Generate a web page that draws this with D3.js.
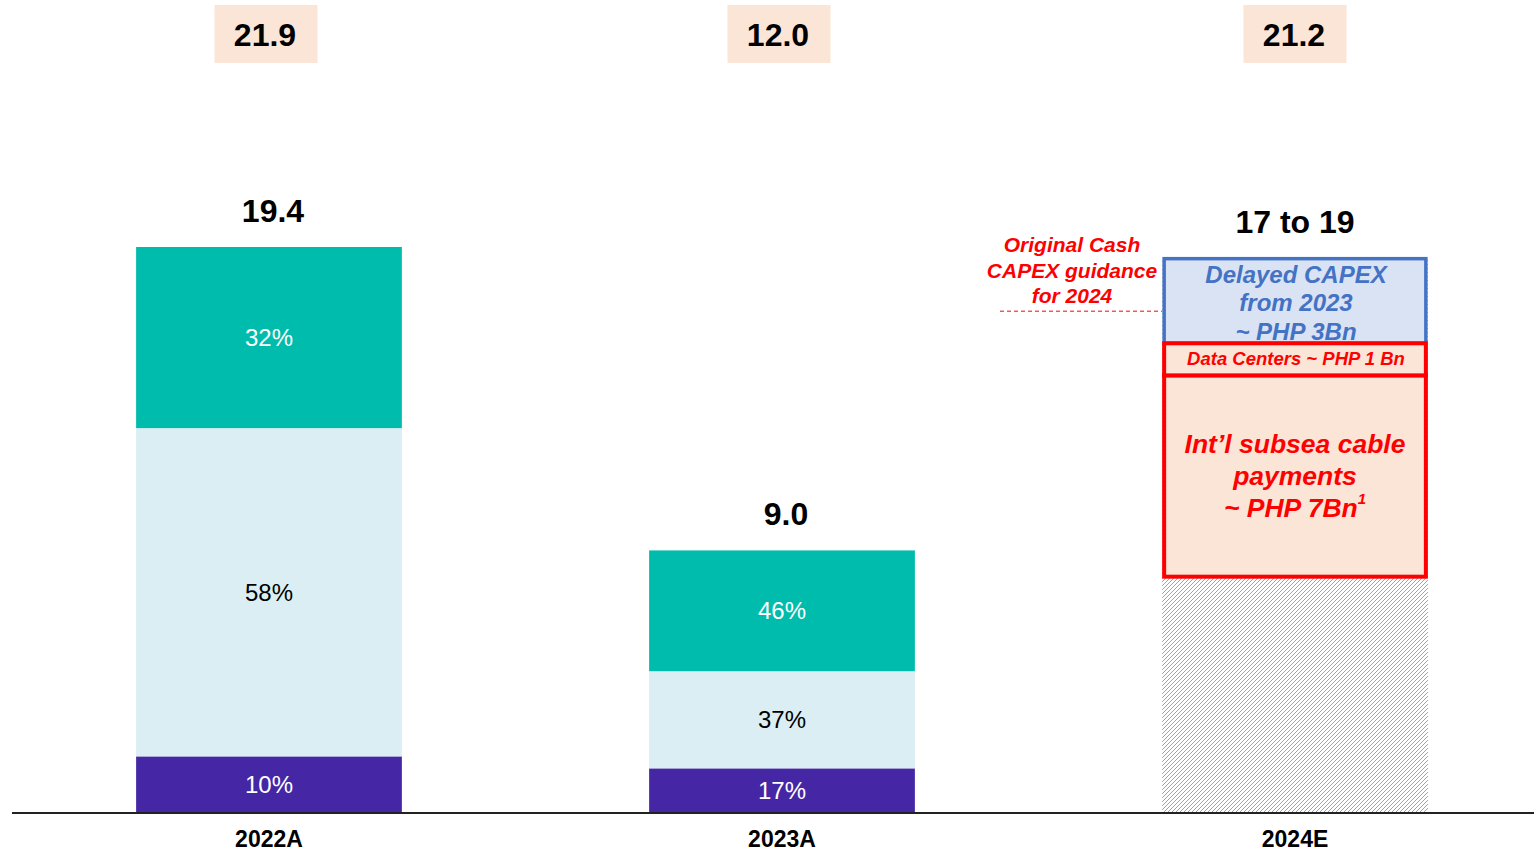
<!DOCTYPE html>
<html><head><meta charset="utf-8">
<script src="https://cdn.jsdelivr.net/npm/d3@7"></script>
<style>body{margin:0;background:#fff}svg{display:block}text{font-family:"Liberation Sans",Arial,sans-serif}</style>
</head><body><svg id="c" width="1534" height="854"></svg>
<script>
const categories = ["2022A", "2023A", "2024E"];
const totals = [19.4, 9.0];
const segments = ["bottom", "middle", "top"];
const shares2022 = [0.10, 0.58, 0.32];
const shares2023 = [0.17, 0.37, 0.46];
const topLabels = ["21.9", "12.0", "21.2"];
const valueLabels = ["19.4", "9.0", "17 to 19"];
const est2024 = [8.1, 6.9, 1.1, 2.9]; // base (hatched), subsea, data centers, delayed
const guidance2024 = 17.2;

const svg = d3.select("#c");
const x = d3.scaleBand().domain(categories).range([13, 1551]).paddingInner(0.482).paddingOuter(0.24);
const y = d3.scaleLinear().domain([0, 19.4]).range([813, 247]);
const colors = {bottom: "#4527A5", middle: "#DAEEF3", top: "#00BCAC"};
const textColors = {bottom: "#ffffff", middle: "#000000", top: "#ffffff"};

const defs = svg.append("defs");
const pat = defs.append("pattern").attr("id", "hatch").attr("patternUnits", "userSpaceOnUse")
  .attr("width", 4).attr("height", 4);
pat.append("path").attr("d", "M-1,1 L1,-1 M0,4 L4,0 M3,5 L5,3").attr("stroke", "#a2a2a2").attr("stroke-width", 1);

// stacked bars 2022A, 2023A
[shares2022, shares2023].forEach((shares, i) => {
  const cat = categories[i];
  let acc = 0;
  shares.forEach((s, j) => {
    const v0 = acc, v1 = acc + s * totals[i];
    acc = v1;
    svg.append("rect").attr("x", x(cat)).attr("width", x.bandwidth())
      .attr("y", y(v1)).attr("height", y(v0) - y(v1)).attr("fill", colors[segments[j]]);
    svg.append("text").attr("x", x(cat) + x.bandwidth() / 2).attr("y", (y(v0) + y(v1)) / 2)
      .attr("text-anchor", "middle").attr("dominant-baseline", "central")
      .attr("font-size", 24).attr("fill", textColors[segments[j]])
      .text(Math.round(s * 100) + "%");
  });
});

// 2024E
const c3 = categories[2];
const bx = x(c3), bw = x.bandwidth();
const total2024 = d3.sum(est2024);
svg.append("rect").attr("x", bx).attr("width", bw).attr("y", y(total2024)).attr("height", y(0) - y(total2024))
  .attr("fill", "url(#hatch)");
const cum = [0];
est2024.forEach(v => cum.push(cum[cum.length - 1] + v));
const inset = 2;
svg.append("rect").attr("x", bx + inset).attr("width", bw - 2 * inset)
  .attr("y", y(cum[2])).attr("height", y(cum[1]) - y(cum[2]))
  .attr("fill", "#FBE5D6").attr("stroke", "#FF0000").attr("stroke-width", 4);
svg.append("rect").attr("x", bx + inset).attr("width", bw - 2 * inset)
  .attr("y", y(cum[4])).attr("height", y(cum[3]) - y(cum[4]))
  .attr("fill", "#DAE3F3").attr("stroke", "#4472C4").attr("stroke-width", 3.5);
svg.append("rect").attr("x", bx + inset).attr("width", bw - 2 * inset)
  .attr("y", y(cum[3])).attr("height", y(cum[2]) - y(cum[3]))
  .attr("fill", "#FBE5D6").attr("stroke", "#FF0000").attr("stroke-width", 4);

const cx3 = bx + bw / 2;
const txt = (xx, yy, s, size, color, italic) => svg.append("text").attr("x", xx).attr("y", yy)
  .attr("text-anchor", "middle").attr("dominant-baseline", "central")
  .attr("font-size", size).attr("font-weight", "bold").attr("font-style", italic ? "italic" : "normal")
  .attr("fill", color).text(s);

txt(cx3 + 1, 274, "Delayed CAPEX", 24, "#4472C4", true);
txt(cx3 + 1, 302, "from 2023", 24, "#4472C4", true);
txt(cx3 + 1, 331, "~ PHP 3Bn", 24, "#4472C4", true);
txt(cx3 + 1, 358, "Data Centers ~ PHP 1 Bn", 18.5, "#FF0000", true);
txt(cx3, 444, "Int\u2019l subsea cable", 26.5, "#FF0000", true);
txt(cx3, 476, "payments", 26.5, "#FF0000", true);
const t7 = txt(cx3, 508, "~ PHP 7Bn", 26.5, "#FF0000", true);
t7.append("tspan").attr("font-size", 15).attr("dy", -10).text("1");

// guidance annotation
svg.append("line").attr("x1", 1000).attr("x2", bx).attr("y1", y(guidance2024)).attr("y2", y(guidance2024))
  .attr("stroke", "#FF0000").attr("stroke-width", 1).attr("stroke-dasharray", "4,3");
txt(1072, 244, "Original  Cash", 21, "#FF0000", true);
txt(1072, 270, "CAPEX guidance", 21, "#FF0000", true);
txt(1072, 295, "for 2024", 21, "#FF0000", true);

// value labels above bars
const tops = [totals[0], totals[1], total2024];
const labelOff = [4, 4, 0];
categories.forEach((c, i) => {
  txt(x(c) + x.bandwidth() / 2 + labelOff[i], y(tops[i]) - (i === 2 ? 37 : 36), valueLabels[i], 32, "#000", false);
});

// top boxes
categories.forEach((c, i) => {
  const cx = x(c) + x.bandwidth() / 2 - (i === 2 ? 0 : 3);
  svg.append("rect").attr("x", cx - 51.5).attr("y", 5).attr("width", 103).attr("height", 58).attr("fill", "#FBE5D6");
  txt(cx - 1, 35, topLabels[i], 32, "#000", false);
});

// axis
const ax = svg.append("g").attr("transform", "translate(0,813)")
  .call(d3.axisBottom(x).tickSize(0).tickPadding(18));
ax.select(".domain").attr("stroke", "#222").attr("stroke-width", 2).attr("d", "M12,0H1534");
ax.selectAll("text").attr("font-size", 23).attr("font-weight", "bold").attr("fill", "#000")
  .attr("font-family", '"Liberation Sans",Arial,sans-serif');
</script></body></html>
